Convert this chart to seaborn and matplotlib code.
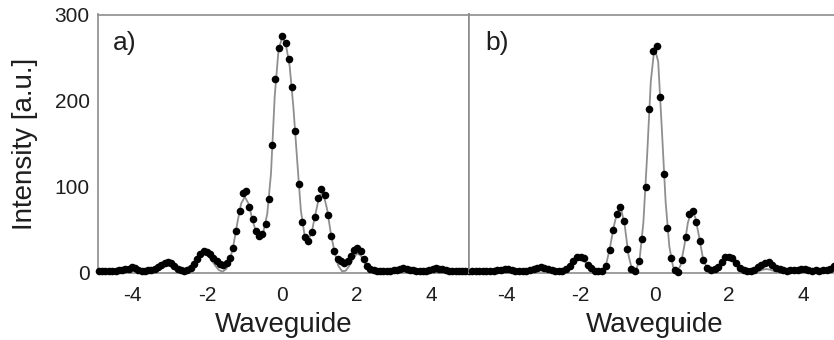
import numpy as np
import pandas as pd
import matplotlib
matplotlib.use("Agg")
import matplotlib.pyplot as plt
import seaborn as sns
from matplotlib.ticker import MultipleLocator

# ---------------- data ----------------
x_theory = [-5.0, -4.9, -4.8, -4.7, -4.6, -4.5, -4.4, -4.3, -4.2, -4.1,
            -4.0, -3.9, -3.8, -3.7, -3.6, -3.5, -3.4, -3.3, -3.2, -3.1,
            -3.0, -2.9, -2.8, -2.7, -2.6, -2.5, -2.4, -2.3, -2.2, -2.1,
            -2.0, -1.9, -1.8, -1.7, -1.6, -1.5, -1.4, -1.3, -1.2, -1.1,
            -1.0, -0.9, -0.8, -0.7, -0.6, -0.5, -0.4, -0.3, -0.2, -0.1,
            0.0, 0.1, 0.2, 0.3, 0.4, 0.5, 0.6, 0.7, 0.8, 0.9,
            1.0, 1.1, 1.2, 1.3, 1.4, 1.5, 1.6, 1.7, 1.8, 1.9,
            2.0, 2.1, 2.2, 2.3, 2.4, 2.5, 2.6, 2.7, 2.8, 2.9,
            3.0, 3.1, 3.2, 3.3, 3.4, 3.5, 3.6, 3.7, 3.8, 3.9,
            4.0, 4.1, 4.2, 4.3, 4.4, 4.5, 4.6, 4.7, 4.8, 4.9,
            5.0]

theory_a = [0.5, 0.5, 0.5, 0.5, 0.5, 0.5, 0.8, 1.2, 2, 3,
            3, 2, 1, 0.5, 0.5, 0.5, 1, 3, 6, 8,
            7.5, 4.5, 1.5, 0.5, 0.5, 1.5, 5, 11, 17, 21,
            20, 15, 8.5, 3, 1, 4, 14, 33, 58, 80,
            88, 80, 62, 47, 42, 48, 68, 115, 205, 258,
            274, 265, 240, 192, 131, 72, 43, 37, 49, 70,
            90, 92, 74, 46, 24, 8, 1.5, 2, 8, 16,
            22, 20, 12, 5, 1.5, 0.5, 0.5, 0.5, 0.8, 1.5,
            2.5, 3, 3, 2, 1, 0.5, 0.5, 0.5, 0.5, 0.5,
            1.5, 2, 2, 1, 0.5, 0.5, 0.5, 0.5, 0.5, 0.5,
            0.5]

theory_b = [0.5, 0.5, 0.5, 0.5, 0.5, 0.5, 0.5, 0.8, 1.5, 2,
            2, 1.5, 0.8, 0.5, 0.5, 0.5, 0.8, 1.5, 2.5, 3,
            2.5, 1.5, 0.5, 0.5, 0.5, 1, 3, 7, 12, 16,
            17, 14, 8, 3, 0.5, 0.3, 2, 10, 29, 53,
            71, 74, 54, 20, 2, 2, 16, 58, 135, 222,
            262, 245, 165, 82, 30, 7, 0.5, 8, 30, 58,
            72, 64, 42, 18, 6, 1, 1, 5, 11, 16,
            18, 16, 11, 5, 1.5, 0.5, 0.5, 0.8, 1.5, 3,
            4, 3.5, 2, 0.8, 0.5, 0.5, 0.5, 0.5, 0.5, 0.5,
            1, 1, 0.5, 0.5, 0.5, 0.5, 0.5, 0.5, 0.5, 0.5,
            0.5]

x_exp_a = [-4.90, -4.81, -4.73, -4.64, -4.55, -4.46, -4.38, -4.29, -4.20, -4.11,
           -4.03, -3.94, -3.85, -3.76, -3.68, -3.59, -3.50, -3.41, -3.33, -3.24,
           -3.15, -3.06, -2.98, -2.89, -2.80, -2.71, -2.63, -2.54, -2.45, -2.36,
           -2.28, -2.19, -2.10, -2.01, -1.93, -1.84, -1.75, -1.66, -1.58, -1.49,
           -1.40, -1.31, -1.23, -1.14, -1.05, -0.96, -0.88, -0.79, -0.70, -0.61,
           -0.53, -0.44, -0.35, -0.26, -0.18, -0.09, 0.00, 0.09, 0.18, 0.26,
           0.35, 0.44, 0.53, 0.61, 0.70, 0.79, 0.88, 0.96, 1.05, 1.14,
           1.23, 1.31, 1.40, 1.49, 1.58, 1.66, 1.75, 1.84, 1.93, 2.01,
           2.10, 2.19, 2.28, 2.36, 2.45, 2.54, 2.63, 2.71, 2.80, 2.89,
           2.98, 3.06, 3.15, 3.24, 3.33, 3.41, 3.50, 3.59, 3.68, 3.76,
           3.85, 3.94, 4.03, 4.11, 4.20, 4.29, 4.38, 4.46, 4.55, 4.64,
           4.73, 4.81, 4.90, 4.99]

y_exp_a = [1.5, 1.5, 1.5, 1.5, 2, 2, 2.5, 3, 3.5, 4,
           6, 5, 3, 2, 2, 2.5, 3, 4, 6, 9,
           11.5, 12, 10.5, 7, 4, 2.5, 2, 2.5, 5, 10,
           16, 22, 25, 24, 21, 17, 13, 10, 9, 11,
           17, 28, 48, 71, 92, 95, 76, 62, 48, 42,
           45, 56, 85, 148, 225, 261, 275, 267, 248, 216,
           165, 103, 59, 41, 37, 47, 65, 87, 97, 90,
           67, 42, 25, 16, 13, 11, 13, 19, 26, 28,
           25, 16, 8, 4, 2.5, 1.5, 1.5, 1.5, 2, 2,
           2.5, 3, 4.5, 5, 4, 3, 2.5, 2, 1.5, 2,
           2, 2.5, 4, 5, 4.5, 3.5, 2.5, 2, 1.5, 1.5,
           1.5, 1.5, 1.5, 1.5]

x_exp_b = [-4.92, -4.82, -4.72, -4.63, -4.53, -4.43, -4.33, -4.24, -4.14, -4.04,
           -3.94, -3.85, -3.75, -3.65, -3.55, -3.46, -3.36, -3.26, -3.16, -3.07,
           -2.97, -2.87, -2.77, -2.68, -2.58, -2.48, -2.38, -2.29, -2.19, -2.09,
           -1.99, -1.90, -1.80, -1.70, -1.60, -1.51, -1.41, -1.31, -1.21, -1.12,
           -1.02, -0.92, -0.82, -0.73, -0.63, -0.53, -0.43, -0.34, -0.24, -0.14,
           -0.04, 0.06, 0.15, 0.25, 0.35, 0.45, 0.54, 0.64, 0.74, 0.84,
           0.93, 1.03, 1.13, 1.23, 1.32, 1.42, 1.52, 1.62, 1.71, 1.81,
           1.91, 2.01, 2.10, 2.20, 2.30, 2.40, 2.49, 2.59, 2.69, 2.79,
           2.88, 2.98, 3.08, 3.18, 3.27, 3.37, 3.47, 3.57, 3.66, 3.76,
           3.86, 3.96, 4.05, 4.15, 4.25, 4.35, 4.44, 4.54, 4.64, 4.74,
           4.83, 4.93]

y_exp_b = [2, 2, 1.5, 2, 2, 1.5, 2, 2.5, 3, 4.5,
           4, 3, 2, 2, 1.5, 2, 2.5, 3.5, 5, 6,
           5, 4.5, 3, 2, 1.5, 2, 4, 8, 13, 17.5,
           18, 16.5, 9, 5, 2, 1.5, 2, 8, 26.5, 49,
           68, 76, 60, 27, 4, 1.5, 13, 38.5, 100, 190,
           258, 263, 204, 115, 52, 17, 3, 1, 15, 41,
           68, 72, 59, 37, 14.5, 5, 3, 3.5, 6.7, 12.6,
           17.7, 18.4, 16.5, 11.4, 5, 2.6, 2, 2, 3, 6,
           9, 10.5, 12.5, 8.5, 5, 4, 2.5, 2, 2.5, 3,
           3, 4, 4, 3, 2, 2.5, 2, 3, 3, 4,
           7, 7]

x_ticks = [-4, -2, 0, 2, 4]
y_ticks = [0, 100, 200, 300]
panel_labels = ["a)", "b)"]
x_label = "Waveguide"
y_label = "Intensity [a.u.]"

# ---------------- style ----------------
sns.set_theme(style="white")
plt.rcParams["font.family"] = ["Liberation Sans", "DejaVu Sans"]

SPINE = "#8c8c8c"
TEXT = "#1e1e1e"
LINE = "#8f8f8f"

W, H = 834, 340
fig = plt.figure(figsize=(W / 100, H / 100), dpi=100)
fig.patch.set_facecolor("white")


def rect(l, t, r, b):
    return [l / W, 1 - b / H, (r - l) / W, (b - t) / H]


ax_a = fig.add_axes(rect(98, 14.5, 469, 272.5))
ax_b = fig.add_axes(rect(469, 14.5, 840, 272.5))

panels = [
    (ax_a, x_exp_a, y_exp_a, theory_a, (-4.93, 5.0)),
    (ax_b, x_exp_b, y_exp_b, theory_b, (-5.0, 5.0)),
]

for i, (ax, xe, ye, yt, xl) in enumerate(panels):
    df_t = pd.DataFrame({"x": x_theory, "y": yt})
    df_e = pd.DataFrame({"x": xe, "y": ye})
    sns.lineplot(data=df_t, x="x", y="y", ax=ax, color=LINE, lw=1.3,
                 estimator=None, sort=False, zorder=2)
    sns.scatterplot(data=df_e, x="x", y="y", ax=ax, color="black", s=30,
                    linewidth=0, zorder=3, clip_on=False)
    ax.set_facecolor("white")
    ax.set_xlim(*xl)
    ax.set_ylim(0, 300)
    ax.xaxis.set_major_locator(MultipleLocator(2))
    ax.xaxis.set_minor_locator(MultipleLocator(1))
    ax.yaxis.set_major_locator(MultipleLocator(100))
    ax.yaxis.set_minor_locator(MultipleLocator(25))
    ax.set_xticks(x_ticks)
    ax.set_xticklabels([str(t) for t in x_ticks])
    ax.tick_params(which="major", direction="in", length=6, width=1.0,
                   color=SPINE, labelsize=15, labelcolor=TEXT, pad=10)
    ax.tick_params(which="minor", direction="in", length=3.5, width=1.0,
                   color=SPINE)
    ax.tick_params(axis="y", pad=6)
    for s in ax.spines.values():
        s.set_visible(True)
        s.set_color(SPINE)
        s.set_linewidth(1.2)
    ax.set_xlabel(x_label, fontsize=20, color=TEXT, labelpad=5)
    ax.set_ylabel("")
    ax.text(0.04 if i == 0 else 0.043, 0.89, panel_labels[i],
            transform=ax.transAxes, fontsize=19, color=TEXT,
            ha="left", va="center")
    ax.grid(False)

ax_a.set_yticks(y_ticks)
ax_a.set_ylabel(y_label, fontsize=20, color=TEXT, labelpad=12)
ax_b.set_yticks(y_ticks)
ax_b.tick_params(axis="y", labelleft=False)
ax_b.tick_params(axis="y", which="both", direction="inout")

fig.savefig("out.png", dpi=100, facecolor="white")
